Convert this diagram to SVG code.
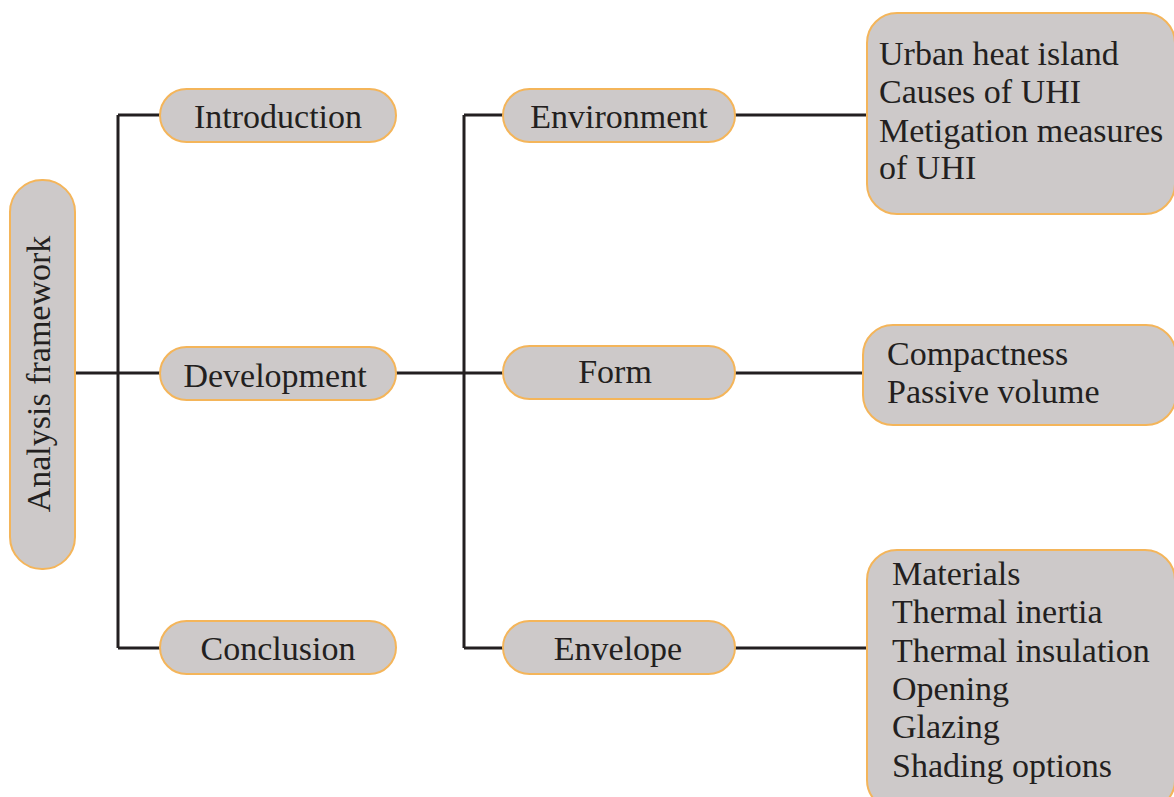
<svg xmlns="http://www.w3.org/2000/svg" width="1174" height="797" viewBox="0 0 1174 797">
<style>
.n{fill:#CDC9C9;stroke:#F4B55A;stroke-width:2}
.t{font-family:"Liberation Serif",serif;font-size:34px;fill:#231F20}
.c{fill:none;stroke:#231F20;stroke-width:3}
</style>
<rect width="1174" height="797" fill="#fff"/>
<g id="connectors">
<path class="c" d="M75 373H160M118 115V648M118 115H160M118 648H160"/>
<path class="c" d="M396 373H503M464 115V648M464 115H503M464 648H503"/>
<path class="c" d="M735 115H868M735 373H863M735 648H868"/>
</g>
<g id="analysis">
<rect class="n" x="10" y="180" width="65" height="389" rx="32"/>
<text class="t" text-anchor="middle" transform="translate(50 374) rotate(-90)">Analysis framework</text>
</g>
<g id="introduction">
<rect class="n" x="160" y="89" width="236" height="53" rx="26.5"/>
<text class="t" x="278" y="128" text-anchor="middle">Introduction</text>
</g>
<g id="development">
<rect class="n" x="160" y="347" width="236" height="53" rx="26.5"/>
<text class="t" x="275" y="387" text-anchor="middle">Development</text>
</g>
<g id="conclusion">
<rect class="n" x="160" y="621" width="236" height="53" rx="26.5"/>
<text class="t" x="278" y="660" text-anchor="middle">Conclusion</text>
</g>
<g id="environment">
<rect class="n" x="503" y="89" width="232" height="53" rx="26.5"/>
<text class="t" x="619" y="128" text-anchor="middle">Environment</text>
</g>
<g id="form">
<rect class="n" x="503" y="346" width="232" height="53" rx="26.5"/>
<text class="t" x="615" y="383" text-anchor="middle">Form</text>
</g>
<g id="envelope">
<rect class="n" x="503" y="621" width="232" height="53" rx="26.5"/>
<text class="t" x="618" y="660" text-anchor="middle">Envelope</text>
</g>
<g id="env-details">
<rect class="n" x="867" y="13" width="308" height="201" rx="30"/>
<text class="t" x="879" y="65">Urban heat island</text>
<text class="t" x="879" y="103">Causes of UHI</text>
<text class="t" x="879" y="142">Metigation measures</text>
<text class="t" x="879" y="179">of UHI</text>
</g>
<g id="form-details">
<rect class="n" x="863" y="325" width="313" height="100" rx="30"/>
<text class="t" x="887" y="365">Compactness</text>
<text class="t" x="887" y="403">Passive volume</text>
</g>
<g id="envelope-details">
<rect class="n" x="867" y="550" width="308" height="260" rx="30"/>
<text class="t" x="892" y="585">Materials</text>
<text class="t" x="892" y="623">Thermal inertia</text>
<text class="t" x="892" y="662">Thermal insulation</text>
<text class="t" x="892" y="700">Opening</text>
<text class="t" x="892" y="738">Glazing</text>
<text class="t" x="892" y="777">Shading options</text>
</g>
</svg>
